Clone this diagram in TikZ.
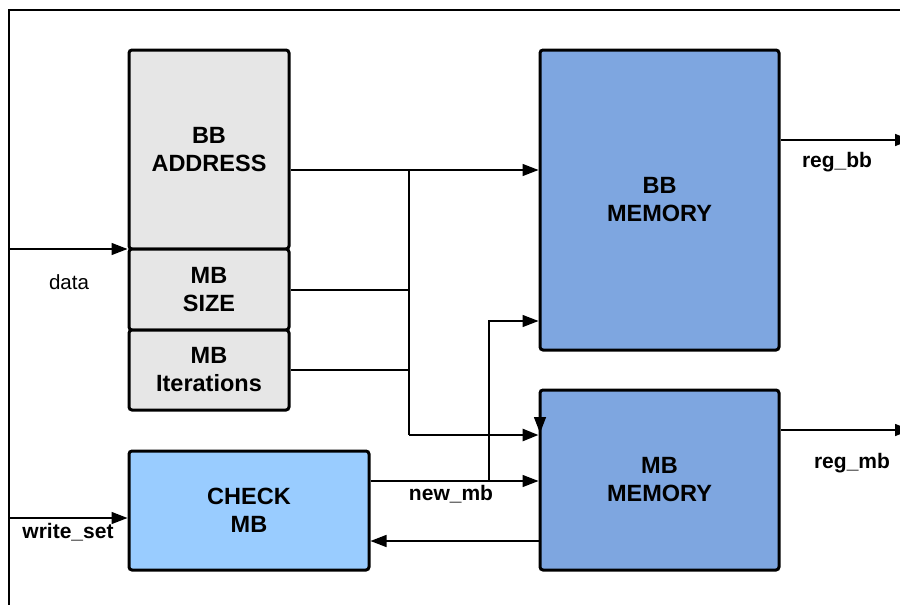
\documentclass[tikz,border=0pt]{standalone}
\usepackage{fontspec}
\setmainfont{Liberation Sans}
\usetikzlibrary{arrows.meta}
\definecolor{greyfill}{HTML}{E6E6E6}
\definecolor{memfill}{HTML}{7EA6E0}
\definecolor{chkfill}{HTML}{99CCFF}
\tikzset{
  blk/.style={draw=black, line width=3pt, rounded corners=3pt, inner sep=0pt, align=center,
    font=\fontsize{23.5}{28}\selectfont\bfseries},
  conn/.style={line width=1.4pt, -{Triangle[length=16pt,width=12pt]}},
  wire/.style={line width=1.4pt},
  lbl/.style={font=\fontsize{21}{24}\selectfont\bfseries, inner sep=0pt},
  lbln/.style={font=\fontsize{20.5}{24}\selectfont, inner sep=0pt}
}
\begin{document}
\begin{tikzpicture}[x=1pt,y=-1pt]
\useasboundingbox (0,0) rectangle (900,605);
\clip (0,0) rectangle (900,605);
\fill[white] (0,0) rectangle (900,605);
\draw[line width=1.5pt] (9,620) -- (9,10) -- (920,10);

\node[blk, fill=greyfill, minimum width=160pt, minimum height=199pt] (bba) at (209,149.5) {BB\\ADDRESS};
\node[blk, fill=greyfill, minimum width=160pt, minimum height=81pt] (mbs) at (209,289.5) {MB\\SIZE};
\node[blk, fill=greyfill, minimum width=160pt, minimum height=80pt] (mbi) at (209,370) {MB\\Iterations};
\node[blk, fill=memfill, minimum width=239pt, minimum height=300pt] (bbm) at (659.5,200) {BB\\MEMORY};
\node[blk, fill=memfill, minimum width=239pt, minimum height=180pt] (mbm) at (659.5,480) {MB\\MEMORY};
\node[blk, fill=chkfill, minimum width=240pt, minimum height=119pt] (chk) at (249,510.5) {CHECK\\MB};

\coordinate (din) at (9,249);
\coordinate (wsin) at (9,518);
\coordinate (j1) at (409,170);
\coordinate (j2) at (409,290);
\coordinate (j3) at (409,370);
\coordinate (j4) at (409,435);
\coordinate (k1) at (489,481);
\coordinate (k2) at (489,321);
\coordinate (r1) at (541,541);
\coordinate (o1) at (911,140);
\coordinate (o2) at (911,430);
\coordinate (dtop) at (540,405);
\coordinate (dtip) at (540,433);

% inputs
\draw[conn] (din) -- (din -| bba.south west);
\draw[conn] (wsin) -- (chk.west |- wsin);

% BB address to BB memory
\draw[conn] (bba.east |- j1) -- (bbm.west |- j1);
\draw[wire] (j1) -- (j4);
\draw[wire] (mbs.east |- j2) -- (j2);
\draw[wire] (mbi.east |- j3) -- (j3);
\draw[line width=2.8pt, -{Triangle[length=16pt,width=12pt]}] (j4) -- (mbm.west |- j4);
\draw[conn] (dtop) -- (dtip);

% new_mb
\draw[conn] (chk.east |- k1) -- (mbm.west |- k1);
\draw[conn] (k1) -- (k2) -- (bbm.west |- k2);
\draw[conn] (r1) -- (chk.east |- r1);

% outputs
\draw[conn] (bbm.east |- o1) -- (o1);
\draw[conn] (mbm.east |- o2) -- (o2);

% labels
\node[lbln] (ldata) at (69,282) {data};
\node[lbl] (lws) at (68,532) {write\_set};
\node[lbl] (lnew) at (451,494) {new\_mb};
\node[lbl] (lrbb) at (837,162) {reg\_bb};
\node[lbl] (lrmb) at (852,463) {reg\_mb};
\end{tikzpicture}
\end{document}
